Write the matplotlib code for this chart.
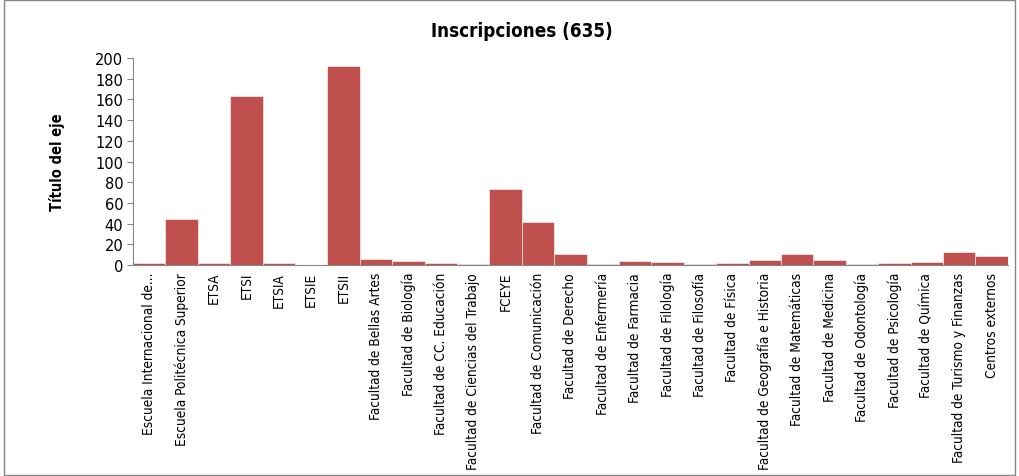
import matplotlib
matplotlib.use("Agg")
import matplotlib.pyplot as plt
from matplotlib.patches import Rectangle
import numpy as np

# Categories and counts
categorias = [
    "Escuela Internacional de...", "Escuela Politécnica Superior", "ETSA", "ETSI",
    "ETSIA", "ETSIE", "ETSII", "Facultad de Bellas Artes", "Facultad de Biología",
    "Facultad de CC. Educación", "Facultad de Ciencias del Trabajo", "FCEYE",
    "Facultad de Comunicación", "Facultad de Derecho", "Facultad de Enfermería",
    "Facultad de Farmacia", "Facultad de Filología", "Facultad de Filosofía",
    "Facultad de Física", "Facultad de Geografía e Historia", "Facultad de Matemáticas",
    "Facultad de Medicina", "Facultad de Odontología", "Facultad de Psicología",
    "Facultad de Química", "Facultad de Turismo y Finanzas", "Centros externos",
]
inscripciones = [2, 44, 2, 163, 2, 0, 192, 6, 4, 2, 1, 73, 42, 11, 1, 4, 3, 1, 2, 5, 11, 5, 1, 2, 3, 13, 9]
yticks = [0, 20, 40, 60, 80, 100, 120, 140, 160, 180, 200]

fig = plt.figure(figsize=(10.2, 4.77), dpi=100)
ax = fig.add_axes([0.1304, 0.4423, 0.988 - 0.1304, 0.8763 - 0.4423])

x = np.arange(len(categorias))
ax.bar(x, inscripciones, width=1.0, color="#C0504D", edgecolor="white", linewidth=0.4)

ax.set_xlim(-0.5, len(categorias) - 0.5)
ax.set_ylim(0, 200)
ax.set_yticks(yticks)
ax.tick_params(axis="y", labelsize=10.5, length=4, color="#868686", pad=3)
ax.set_xticks(x)
ax.set_xticklabels(categorias, rotation=90, fontsize=9.8, fontstretch="condensed")
ax.tick_params(axis="x", length=0, pad=5)

for s in ["top", "right"]:
    ax.spines[s].set_visible(False)
for s in ["left", "bottom"]:
    ax.spines[s].set_color("#868686")

ax.set_ylabel("Título del eje", fontsize=10.5, fontweight="bold", fontstretch="condensed", labelpad=22)
fig.text(0.512, 0.935, "Inscripciones (635)", ha="center", va="center",
         fontsize=13.5, fontweight="bold", fontstretch="condensed")

fig.patches.append(Rectangle((0.004, 0.003), 0.991, 0.994, transform=fig.transFigure,
                             fill=False, edgecolor="#868686", linewidth=1))

fig.savefig("out.png", dpi=100)
